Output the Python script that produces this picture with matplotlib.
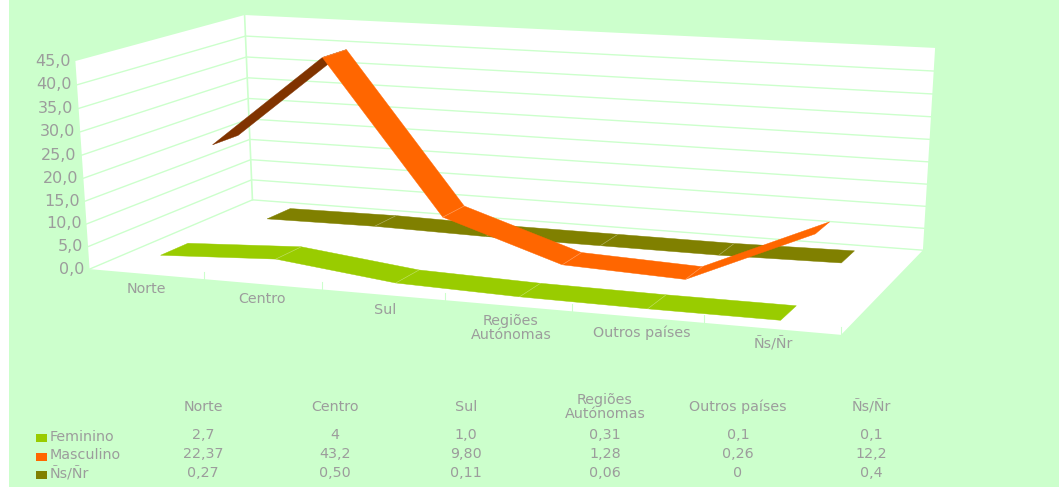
import numpy as np
import matplotlib
matplotlib.use("Agg")
from matplotlib import pyplot as plt

# 표 데이터 (원본 그대로 소수점은 쉼표)
categories = ["Norte", "Centro", "Sul", "Regiões\nAutónomas", "Outros países", "Ñs/Ñr"]
series_names = ["Feminino", "Masculino", "Ñs/Ñr"]
feminino = ["2,7", "4", "1,0", "0,31", "0,1", "0,1"]
masculino = ["22,37", "43,2", "9,80", "1,28", "0,26", "12,2"]
nsnr = ["0,27", "0,50", "0,11", "0,06", "0", "0,4"]
y_ticks = [0, 5, 10, 15, 20, 25, 30, 35, 40, 45]

GREEN = "#99CC00"
ORANGE = "#FF6600"
OLIVE = "#808000"
DARK = "#803300"
BG = "#CCFFCC"
GREY = "#9C9C9C"
FONT = "DejaVu Sans"


def to_num(lst):
    return np.array([float(s.replace(",", ".")) for s in lst])


# 3D 박스 꼭짓점 -> 화면 픽셀 (u=가로, v=값, w=깊이)
box_3d = [(0, 0, 0), (1, 0, 0), (0, 0, 1), (1, 0, 1), (0, 45, 0), (0, 45, 1), (1, 45, 1)]
box_px = [(90, 269), (841, 335), (252, 200), (923, 250), (75, 61), (245, 15), (935, 48)]

rows = []
for (u, v, w), (px, py) in zip(box_3d, box_px):
    p = [u, v / 45, w, 1]
    rows.append(p + [0, 0, 0, 0] + [-px * c for c in p])
    rows.append([0, 0, 0, 0] + p + [-py * c for c in p])
P = np.linalg.svd(np.array(rows))[2][-1].reshape(3, 4)


def proj(u, v, w):
    a = P @ np.array([u, v / 45, w, 1])
    return a[0] / a[2], a[1] / a[2]


fig = plt.figure(figsize=(10.59, 4.88), dpi=100, facecolor="white")
ax = fig.add_axes([0, 0, 1, 1])
ax.set_xlim(0, 1059)
ax.set_ylim(488, 0)
ax.axis("off")

# 배경
ax.fill([9, 1059, 1059, 9], [0, 0, 487, 487], color=BG, lw=0, zorder=0)

# 벽, 바닥
ax.fill(*zip(proj(0, 0, 0), proj(0, 45, 0), proj(0, 45, 1), proj(0, 0, 1)), color="white", lw=0, zorder=1)
ax.fill(*zip(proj(0, 0, 1), proj(0, 45, 1), proj(1, 45, 1), proj(1, 0, 1)), color="white", lw=0, zorder=1)
ax.fill(*zip(proj(0, 0, 0), proj(1, 0, 0), proj(1, 0, 1), proj(0, 0, 1)), color="white", lw=0, zorder=1)

# 격자선
for t in y_ticks[:-1]:
    a, b, c = proj(0, t, 0), proj(0, t, 1), proj(1, t, 1)
    ax.plot([a[0], b[0], c[0]], [a[1], b[1], c[1]], color=BG, lw=1.0, zorder=2)
a, b = proj(0, 0, 1), proj(0, 45, 1)
ax.plot([a[0], b[0]], [a[1], b[1]], color=BG, lw=1.2, zorder=2)

# 눈금
for i in range(1, 7):
    a, b = proj(i / 6, 0, 0), proj(i / 6, 1.6, 0)
    ax.plot([a[0], a[0]], [a[1], b[1]], color=BG, lw=0.8, zorder=2)

# 리본 (뒤에서 앞으로)
band = 0.16
depth = {"f": (0.165 - band / 2, 0.165 + band / 2),
         "m": (0.5 - band / 2, 0.5 + band / 2),
         "n": (0.825 - band / 2, 0.825 + band / 2)}


def ribbon(vals, w, colors, z):
    xs = (np.arange(len(vals)) + 0.5) / len(vals)
    for i in range(len(vals) - 1):
        quad = [proj(xs[i], vals[i], w[0]), proj(xs[i + 1], vals[i + 1], w[0]),
                proj(xs[i + 1], vals[i + 1], w[1]), proj(xs[i], vals[i], w[1])]
        ax.fill(*zip(*quad), color=colors[i], lw=0.3, zorder=z)
    for i in range(1, len(vals) - 1):
        a, b = proj(xs[i], vals[i], w[0]), proj(xs[i], vals[i], w[1])
        ax.plot([a[0], b[0]], [a[1], b[1]], color="white", lw=0.5, alpha=0.3, zorder=z)


ribbon(to_num(nsnr), depth["n"], [OLIVE] * 5, 3)
ribbon(to_num(masculino), depth["m"], [DARK, ORANGE, ORANGE, ORANGE, ORANGE], 4)
ribbon(to_num(feminino), depth["f"], [GREEN] * 5, 5)

# 축 레이블
for t in y_ticks:
    x, y = proj(0, t, 0)
    ax.text(x - 5, y, f"{t},0", ha="right", va="center", fontsize=11.5, color=GREY, family=FONT)

# 카테고리 레이블
cat_x = [146, 262, 385, 511, 642, 773]
cat_y = [289, 299, 310, 328, 333, 344]
for name, x, y in zip(categories, cat_x, cat_y):
    ax.text(x, y, name, ha="center", va="center", fontsize=10.3, color=GREY, family=FONT, linespacing=1.05)

# 데이터 표
col_x = [203, 335, 466, 605, 738, 871]
for name, x in zip(categories, col_x):
    ax.text(x, 407, name, ha="center", va="center", fontsize=10.3, color=GREY, family=FONT, linespacing=1.0)

row_y = [435, 454, 473]
name_y = [437, 455, 474]
swatch_y = [438, 457, 475]
for vals, name, col, y, ny, sy in zip([feminino, masculino, nsnr], series_names, [GREEN, ORANGE, OLIVE],
                                      row_y, name_y, swatch_y):
    ax.fill([36, 47, 47, 36], [sy - 4, sy - 4, sy + 4, sy + 4], color=col, lw=0)
    ax.text(50, ny, name, ha="left", va="center", fontsize=10.3, color=GREY, family=FONT)
    for s, x in zip(vals, col_x):
        ax.text(x, y, s, ha="center", va="center", fontsize=10.3, color=GREY, family=FONT)

fig.savefig("out.png", dpi=100)
